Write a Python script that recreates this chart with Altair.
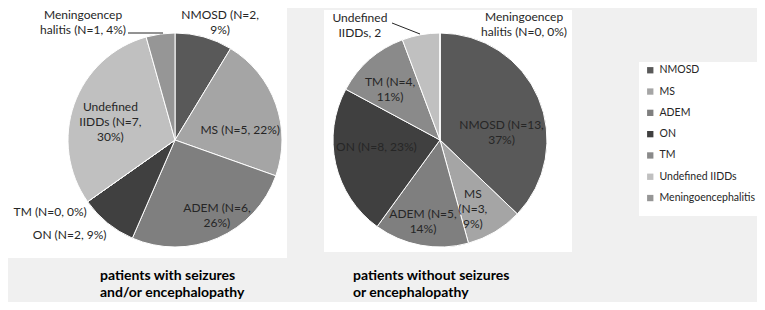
import math
import altair as alt
import pandas as pd

# ---------------- data ----------------
categories = ["NMOSD", "MS", "ADEM", "ON", "TM", "Undefined IIDDs", "Meningoencephalitis"]
with_seizures = [2, 5, 6, 2, 0, 7, 1]
without_seizures = [13, 3, 5, 8, 4, 2, 0]
left_labels = ["NMOSD (N=2,\n9%)", "MS (N=5, 22%)", "ADEM (N=6,\n26%)", "ON  (N=2, 9%)",
               "TM (N=0, 0%)", "Undefined\nIIDDs (N=7,\n30%)", "Meningoencep\nhalitis (N=1, 4%)"]
right_labels = ["NMOSD (N=13,\n37%)", "MS\n(N=3,\n9%)", "ADEM (N=5,\n14%)", "ON  (N=8, 23%)",
                "TM (N=4,\n11%)", "Undefined\nIIDDs, 2", "Meningoencep\nhalitis (N=0, 0%)"]
titles = ["patients with seizures\nand/or encephalopathy", "patients without seizures\nor encephalopathy"]

# ---------------- layout / style ----------------
grays = ["#595959", "#a5a5a5", "#7f7f7f", "#404040", "#8a8a8a", "#c0c0c0", "#969696"]
W, H = 749, 294
BG = "#f0f0f0"
R = 107
LEFT_C = (167, 132)
RIGHT_C = (432, 132)
LINE_H = 15
# label block centres in polar form (degrees clockwise from top, radius px)
left_lab_ang = [21.0, 81.3, 150.8, 227.9, 240.1, 285.5, 321.9]
left_lab_rad = [126, 66, 86, 142, 144, 67, 149]
right_lab_ang = [83.1, 154.4, 191.8, 263.8, 315.3, 325.1, 36.0]
right_lab_rad = [62, 76, 83, 64, 71, 140, 143]
FONT = "Lato"

boxes = pd.DataFrame({
    "x0": [0, 316, 631], "x1": [279, 564, W],
    "y0": [0, 2, 54], "y1": [250, 244, 208],
})


def first_line_anchor(ang_deg, rad, label):
    """Vega anchors multi-line text at its first line: shift the block centre up."""
    n = label.count("\n") + 1
    a = math.radians(ang_deg)
    dx = rad * math.sin(a)
    dy = -rad * math.cos(a) - (n - 1) * LINE_H / 2
    return math.atan2(dx, -dy), math.hypot(dx, dy)


def pie_df(values, labels, angs, rads):
    anchors = [first_line_anchor(a, r, l) for a, r, l in zip(angs, rads, labels)]
    return pd.DataFrame({
        "cat": categories, "n": values, "idx": list(range(len(categories))),
        "label": labels,
        "ang": [p[0] for p in anchors], "rad": [p[1] for p in anchors],
    })


legend = alt.Legend(orient="none", legendX=637, legendY=57, title=None,
                    symbolType="square", symbolSize=40, symbolStrokeWidth=0,
                    labelFont=FONT, labelFontSize=10.5, labelColor="#262626",
                    rowPadding=10.3, labelOffset=4, padding=0)


def pie(values, labels, angs, rads, center, show_legend):
    df = pie_df(values, labels, angs, rads)
    base = alt.Chart(df)
    c = alt.Color("cat:N", sort=categories,
                  scale=alt.Scale(domain=categories, range=grays),
                  legend=legend if show_legend else None)
    arc = base.mark_arc(radius=R, stroke="white", strokeWidth=1).encode(
        theta=alt.Theta("n:Q", stack=True),
        color=c,
        order=alt.Order("idx:Q", sort="ascending"),
        x=alt.value(center[0]), y=alt.value(center[1]),
    )
    txt = base.mark_text(font=FONT, fontSize=12, color="#262626", lineBreak="\n",
                         align="center", baseline="middle", lineHeight=LINE_H).encode(
        theta=alt.Theta("ang:Q", scale=None),
        radius=alt.Radius("rad:Q", scale=None),
        text="label:N",
        x=alt.value(center[0]), y=alt.value(center[1]),
    )
    return arc, txt


bg = alt.Chart(boxes).mark_rect(fill="white").encode(
    x=alt.X("x0:Q", scale=None), x2="x1:Q",
    y=alt.Y("y0:Q", scale=None), y2="y1:Q",
)

la, lt = pie(with_seizures, left_labels, left_lab_ang, left_lab_rad, LEFT_C, True)
ra, rt = pie(without_seizures, right_labels, right_lab_ang, right_lab_rad, RIGHT_C, False)

tdf = pd.DataFrame({"t": titles})
title_style = dict(font=FONT, fontSize=14, fontWeight="bold", color="#000000",
                   lineBreak="\n", align="left", baseline="middle", lineHeight=17)
title_l = alt.Chart(tdf.iloc[[0]]).mark_text(**title_style).encode(
    text="t:N", x=alt.value(92), y=alt.value(268))
title_r = alt.Chart(tdf.iloc[[1]]).mark_text(**title_style).encode(
    text="t:N", x=alt.value(345), y=alt.value(268))

lead_l = alt.Chart(tdf.iloc[[0]]).mark_rule(color="#262626", strokeWidth=1).encode(
    x=alt.value(120), x2=alt.value(155), y=alt.value(25), y2=alt.value(25))
lead_r = alt.Chart(tdf.iloc[[1]]).mark_rule(color="#262626", strokeWidth=1).encode(
    x=alt.value(384), x2=alt.value(412), y=alt.value(15), y2=alt.value(26))

chart = alt.layer(bg, la, ra, lt, rt, lead_l, lead_r, title_l, title_r).resolve_scale(
    theta="independent", radius="independent"
).properties(
    width=W, height=H, background=BG, padding=0,
    autosize=alt.AutoSizeParams(type="fit", contains="padding"),
).configure_view(stroke=None)

chart.save("out.html", embed_options={"renderer": "svg", "actions": False})
